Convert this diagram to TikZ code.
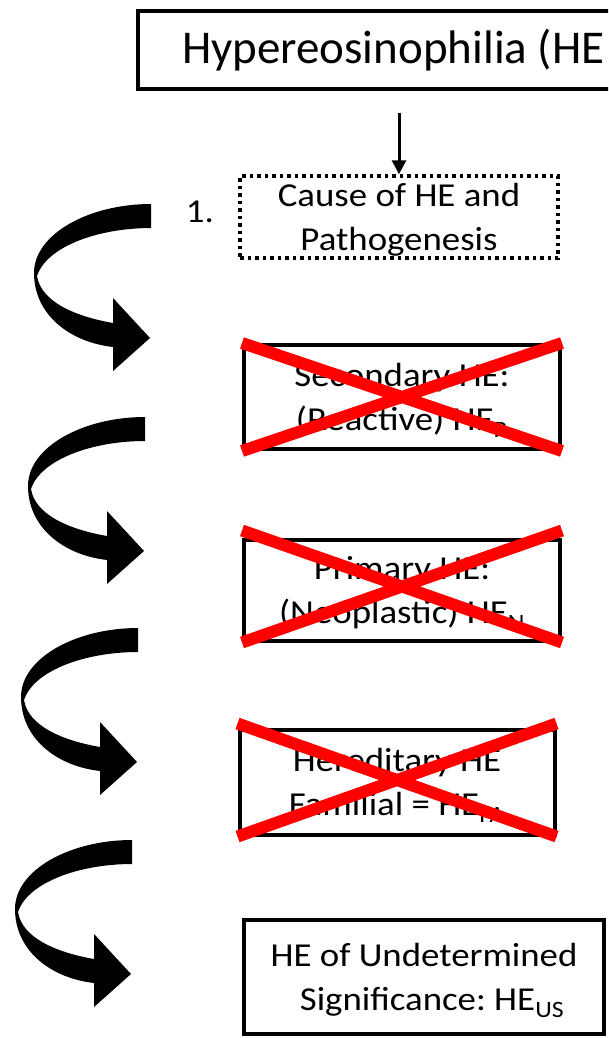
\documentclass[tikz,border=0pt]{standalone}
\usepackage{fontspec}
\setmainfont{Carlito}
\newfontfamily\widefont[FakeStretch=1.1]{Carlito}
\frenchspacing
\usetikzlibrary{positioning,arrows.meta}

\tikzset{
  box/.style={draw, line width=4pt, align=center, inner sep=0pt, text depth=0pt, font=\widefont\fontsize{33.5}{44.5}\selectfont},
  dotbox/.style={box, line width=3.5pt, dash pattern=on 3.5pt off 4pt},
  cross/.style={red, line width=12pt},
  bigturn/.pic={
    \fill (0,0) .. controls (-62,0) and (-117,30) .. (-117,69)
      .. controls (-117,110) and (-82,138) .. (-38,143)
      -- (-38,167) -- (-1,134) -- (-38,94) -- (-38,119)
      .. controls (-78,112) and (-110,97) .. (-114,72)
      .. controls (-104,42) and (-52,24) .. (0,24) -- cycle;
  }
}

\begin{document}
\begin{tikzpicture}[x=1pt,y=-1pt]
\useasboundingbox (0,0) rectangle (608,1038);
\clip (0,0) rectangle (608,1038);
% title and first step
\node[draw, line width=4pt, anchor=west, inner xsep=44pt, minimum height=78pt, font=\fontsize{47}{56}\selectfont] (title) at (136,50) {Hypereosinophilia (HE};
\node[dotbox, minimum width=318pt, minimum height=82pt] (cause) at (399,217) {Cause of HE and\\Pathogenesis};
\node[anchor=base east, inner sep=0pt, font=\widefont\fontsize{33.5}{40}\selectfont] (num) at (214,222) {1.};
\draw[line width=3pt, -{Triangle[length=14pt,width=14pt]}, shorten <=22pt] (title.south -| cause.north) -- (cause.north);
% crossed out types
\node[box, minimum width=316pt, minimum height=104pt] (sec) at (402,397) {Secondary HE:\\(Reactive) HE\textsubscript{R}};
\node[box, minimum width=316pt, minimum height=101pt] (prim) at (402,590) {Primary HE:\\(Neoplastic) HE\textsubscript{N}};
\node[box, minimum width=315pt, minimum height=105pt] (her) at (397,782) {Hereditary HE\\Familial = HE\textsubscript{FA}};
\draw[cross] (sec.north west) -- (sec.south east) (sec.north east) -- (sec.south west);
\draw[cross] ([yshift=7pt]prim.north west) -- (prim.south east) ([yshift=7pt]prim.north east) -- (prim.south west);
\draw[cross] ([yshift=4pt]her.north west) -- (her.south east) ([yshift=4pt]her.north east) -- (her.south west);
% remaining
\node[box, minimum width=360pt, minimum height=114pt] (und) at (424,977) {HE of Undetermined\\\hspace*{16pt}Significance: HE\textsubscript{US}};
% turning arrows
\pic at (151,204) {bigturn};
\pic at (145,417) {bigturn};
\pic at (138,628) {bigturn};
\pic at (132,840) {bigturn};
\end{tikzpicture}
\end{document}
